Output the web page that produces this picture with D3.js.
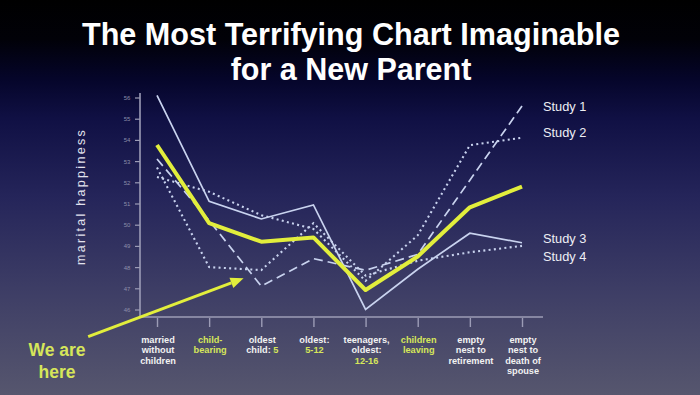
<!DOCTYPE html>
<html>
<head>
<meta charset="utf-8">
<script src="https://cdn.jsdelivr.net/npm/d3@7"></script>
<style>
  html, body { margin: 0; padding: 0; background: #000; }
  svg { display: block; }
</style>
</head>
<body>
<svg id="chart" width="700" height="395"></svg>
<script>
// ---- data ----
const categories = ["married without children", "child-bearing", "oldest child: 5", "oldest: 5-12",
  "teenagers, oldest: 12-16", "children leaving", "empty nest to retirement", "empty nest to death of spouse"];
// tick label lines; text in [brackets] is highlighted
const categoryLines = [
  ["married", "without", "children"],
  ["[child-]", "[bearing]"],
  ["oldest", "child: [5]"],
  ["oldest:", "[5-12]"],
  ["teenagers,", "oldest:", "[12-16]"],
  ["[children]", "[leaving]"],
  ["empty", "nest to", "retirement"],
  ["empty", "nest to", "death of", "spouse"]
];
const study1 = [53.1, 50.2, 47.1, 48.4, 47.85, 48.6, 52.1, 55.6];
const study2 = [52.25, 51.55, 50.45, 49.8, 47.35, 49.5, 53.75, 54.1];
const study3 = [56.1, 51.1, 50.27, 50.93, 46.0, 47.9, 49.6, 49.15];
const study4 = [52.7, 48.0, 47.86, 50.07, 47.6, 48.3, 48.7, 49.0];
const average = [53.76, 50.07, 49.2, 49.4, 46.92, 48.5, 50.82, 51.8];
const seriesNames = ["Study 1", "Study 2", "Study 3", "Study 4"];
const yTicks = [46, 47, 48, 49, 50, 51, 52, 53, 54, 55, 56];
const titleLines = ["The Most Terrifying Chart Imaginable", "for a New Parent"];
const yTitle = "marital happiness";
const noteLines = ["We are", "here"];

// ---- setup ----
const W = 700, H = 395;
const svg = d3.select("#chart");
const FONT = "'Liberation Sans', Arial, Helvetica, sans-serif";
const YEL = "#e2ee3c";
const YEL_TXT = "#d6e65a";
const LINEC = "#c9d3ef";
const AXC = "#9c9cb6";

// background gradient
const defs = svg.append("defs");
const grad = defs.append("linearGradient").attr("id", "bg").attr("x1", 0).attr("y1", 0).attr("x2", 0).attr("y2", 1);
[[0, "#000000"], [0.1, "#010108"], [0.2, "#05052a"], [0.3, "#101044"], [0.5, "#25255a"], [0.75, "#3f3f66"], [1, "#56566e"]]
  .forEach(([o, c]) => grad.append("stop").attr("offset", o).attr("stop-color", c));
svg.append("rect").attr("width", W).attr("height", H).attr("fill", "url(#bg)");

// scales
const x = d3.scalePoint().domain(categories).range([157, 522]);
const y = d3.scaleLinear().domain([46, 56]).range([309.5, 97.5]);
const xi = d3.scaleLinear().domain([0, categories.length - 1]).range([157, 522]);

// ---- title ----
const title = svg.append("g").attr("font-family", FONT).attr("font-weight", "bold")
  .attr("fill", "#ffffff").attr("text-anchor", "middle");
title.append("text").attr("x", 351).attr("y", 44.5).attr("font-size", 30.5)
  .attr("textLength", 538).attr("lengthAdjust", "spacingAndGlyphs").text(titleLines[0]);
title.append("text").attr("x", 351).attr("y", 80).attr("font-size", 30.5).text(titleLines[1]);

// ---- axes ----
const xAxisY = 317;
const yAxisX = 140;
// y axis
const yAxis = d3.axisLeft(y).tickValues(yTicks).tickSize(5).tickPadding(11).tickFormat(d3.format("d"));
const gy = svg.append("g").attr("transform", `translate(${yAxisX},0)`).call(yAxis);
gy.select(".domain").remove();
gy.selectAll(".tick line").attr("stroke", AXC).attr("stroke-width", 1.2);
gy.selectAll(".tick text").attr("fill", "#8d8daa").attr("font-size", 6).attr("font-family", FONT).attr("text-anchor", "middle").attr("dx", 3);
svg.append("line").attr("x1", yAxisX).attr("x2", yAxisX).attr("y1", 93).attr("y2", xAxisY)
  .attr("stroke", AXC).attr("stroke-width", 1.6);

// x axis
const xAxis = d3.axisBottom(x).tickSize(10).tickFormat("");
const gx = svg.append("g").attr("transform", `translate(0,${xAxisY})`).call(xAxis);
gx.select(".domain").remove();
gx.selectAll(".tick line").attr("stroke", AXC).attr("stroke-width", 1.4).attr("y1", 1);
svg.append("line").attr("x1", yAxisX).attr("x2", 543).attr("y1", xAxisY).attr("y2", xAxisY)
  .attr("stroke", AXC).attr("stroke-width", 1.6);

// category labels
const lab = svg.append("g").attr("font-family", FONT).attr("font-weight", "bold").attr("font-size", 9.2)
  .attr("text-anchor", "middle");
categories.forEach((c, i) => {
  const t = lab.append("text").attr("x", x(c) + 1).attr("y", 342.8);
  categoryLines[i].forEach((line, j) => {
    const parts = line.split(/(\[[^\]]*\])/).filter(s => s.length);
    parts.forEach((p, k) => {
      const hi = p.startsWith("[");
      const ts = t.append("tspan").text(hi ? p.slice(1, -1) : p).attr("fill", hi ? YEL_TXT : "#f2f2f2");
      if (k === 0) ts.attr("x", x(c) + 1).attr("dy", j === 0 ? 0 : 10.4);
    });
  });
});

// y title
svg.append("text").attr("transform", `translate(85,${(125 + 268) / 2}) rotate(-90)`)
  .attr("text-anchor", "middle").attr("font-family", FONT).attr("font-size", 12.5)
  .attr("letter-spacing", 2.3).attr("fill", "#e2e2ee").text(yTitle);

// ---- lines ----
const line = d3.line().x((d, i) => x(categories[i])).y(d => y(d));
const studies = [
  { name: seriesNames[0], values: study1, dash: "9,5", width: 1.7 },
  { name: seriesNames[1], values: study2, dash: "2,3.3", width: 2.1 },
  { name: seriesNames[2], values: study3, dash: null, width: 1.7 },
  { name: seriesNames[3], values: study4, dash: "2,3.3", width: 2.1 }
];
const lines = svg.append("g").attr("fill", "none");
studies.forEach(s => {
  lines.append("path").attr("d", line(s.values)).attr("stroke", LINEC)
    .attr("stroke-width", s.width).attr("stroke-dasharray", s.dash);
});
lines.append("path").attr("d", line(average)).attr("stroke", YEL).attr("stroke-width", 4)
  .attr("stroke-linejoin", "round");

// series labels
const labelY = [110.5, 136.5, 243, 261];
svg.append("g").attr("font-family", FONT).attr("font-size", 12.8).attr("fill", "#eeeef4")
  .selectAll("text").data(seriesNames).join("text")
  .attr("x", 543).attr("y", (d, i) => labelY[i]).text(d => d);

// ---- annotation arrow ----
const arrowFrom = { idx: -1.32, val: 44.72 };
const arrowTo = { idx: 1.66, val: 47.47 };
const x0 = xi(arrowFrom.idx), y0 = y(arrowFrom.val), x1 = xi(arrowTo.idx), y1 = y(arrowTo.val);
const ang = Math.atan2(y1 - y0, x1 - x0);
const hl = 13, hw = 5.5;
const bx = x1 - hl * Math.cos(ang), by = y1 - hl * Math.sin(ang);
svg.append("line").attr("x1", x0).attr("y1", y0).attr("x2", bx).attr("y2", by)
  .attr("stroke", YEL).attr("stroke-width", 3);
svg.append("path").attr("d", d3.line()([
  [x1, y1],
  [bx + hw * Math.sin(ang), by - hw * Math.cos(ang)],
  [bx - hw * Math.sin(ang), by + hw * Math.cos(ang)]
])).attr("fill", YEL);

const note = svg.append("text").attr("font-family", FONT).attr("font-weight", "bold").attr("font-size", 17.5)
  .attr("fill", YEL_TXT).attr("text-anchor", "middle");
noteLines.forEach((l, i) => note.append("tspan").attr("x", 57).attr("y", 356 + i * 21.5).text(l));
</script>
</body>
</html>
